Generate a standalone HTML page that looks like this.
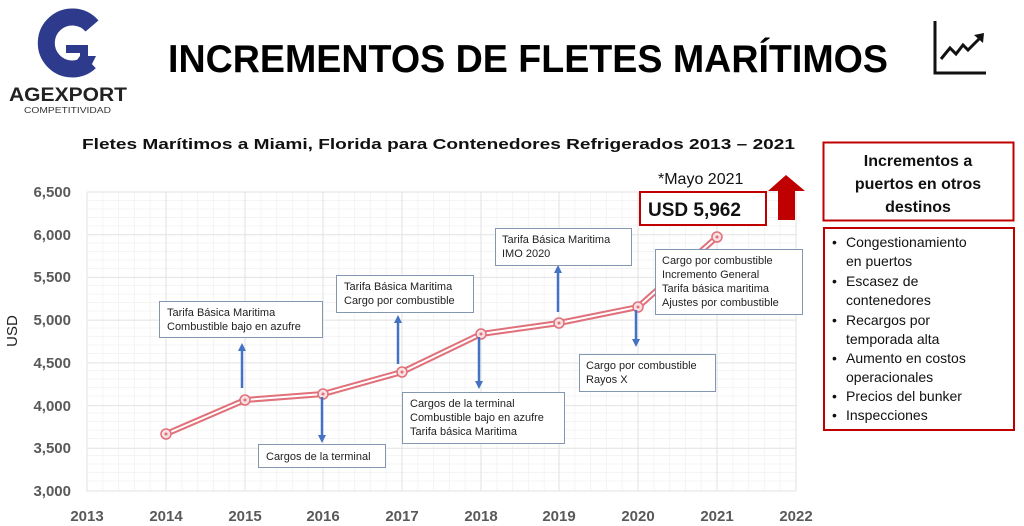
<!DOCTYPE html>
<html><head><meta charset="utf-8"><style>
html,body{margin:0;padding:0;background:#fff;}
svg{display:block;font-family:"Liberation Sans",sans-serif;}
</style></head><body>
<svg width="1024" height="526" viewBox="0 0 1024 526" xmlns="http://www.w3.org/2000/svg">
<!-- logo -->
<path d="M92 26 A26 26 0 1 0 90 62" fill="none" stroke="#2e3a8c" stroke-width="17"/>
<path d="M66 45 H88 V56 H96 L90 68 L80 76 L74 64 L80 56 V53 H66 Z" fill="#2e3a8c"/>
<text x="9" y="101" font-size="19" font-weight="bold" fill="#222" textLength="118" lengthAdjust="spacingAndGlyphs">AGEXPORT</text>
<text x="24" y="113" font-size="8" fill="#333" textLength="87" lengthAdjust="spacingAndGlyphs">COMPETITIVIDAD</text>
<!-- title -->
<text x="168" y="72" font-size="39" font-weight="bold" fill="#000" textLength="720" lengthAdjust="spacingAndGlyphs">INCREMENTOS DE FLETES MARÍTIMOS</text>
<!-- icon -->
<path d="M935 21 V73 H986" fill="none" stroke="#111" stroke-width="3"/>
<path d="M941 59 L950 48 L956 54 L963 45 L968 50 L981 37" fill="none" stroke="#111" stroke-width="3"/>
<path d="M974 35 L984 33 L983 43 Z" fill="#111"/>
<!-- chart title -->
<text x="82" y="149" font-size="15" font-weight="bold" fill="#111" textLength="713" lengthAdjust="spacingAndGlyphs">Fletes Marítimos a Miami, Florida para Contenedores Refrigerados 2013 – 2021</text>
<!-- grid -->
<g stroke="#f4f4f4" stroke-width="1">
<path d="M87 200.5H796M87 209H796M87 217.5H796M87 226H796M87 243H796M87 251.5H796M87 260H796M87 268.5H796M87 285.5H796M87 294H796M87 302.5H796M87 311H796M87 328H796M87 336.5H796M87 345H796M87 353.5H796M87 370.5H796M87 379H796M87 387.5H796M87 396H796M87 413H796M87 421.5H796M87 430H796M87 438.5H796M87 455.5H796M87 464H796M87 472.5H796M87 481H796"/>
<path d="M102.8 192V491M118.6 192V491M134.4 192V491M150.2 192V491M181.8 192V491M197.6 192V491M213.4 192V491M229.2 192V491M260.8 192V491M276.6 192V491M292.4 192V491M308.2 192V491M338.8 192V491M354.6 192V491M370.4 192V491M386.2 192V491M417.8 192V491M433.6 192V491M449.4 192V491M465.2 192V491M496.8 192V491M512.6 192V491M528.4 192V491M544.2 192V491M574.8 192V491M590.6 192V491M606.4 192V491M622.2 192V491M653.8 192V491M669.6 192V491M685.4 192V491M701.2 192V491M732.8 192V491M748.6 192V491M764.4 192V491M780.2 192V491"/>
</g>
<g stroke="#e2e2e2" stroke-width="1">
<path d="M87 192H796M87 234.7H796M87 277.4H796M87 320.1H796M87 362.9H796M87 405.6H796M87 448.3H796M87 491H796"/>
<path d="M87 192V491M166 192V491M245 192V491M323 192V491M402 192V491M481 192V491M559 192V491M638 192V491M717 192V491M796 192V491"/>
</g>
<!-- axis labels -->
<g font-size="15" font-weight="bold" fill="#595959" text-anchor="end">
<text x="71" y="197">6,500</text><text x="71" y="240">6,000</text><text x="71" y="282">5,500</text><text x="71" y="325">5,000</text><text x="71" y="368">4,500</text><text x="71" y="411">4,000</text><text x="71" y="453">3,500</text><text x="71" y="496">3,000</text>
</g>
<g font-size="15" font-weight="bold" fill="#595959" text-anchor="middle">
<text x="87" y="521">2013</text><text x="166" y="521">2014</text><text x="245" y="521">2015</text><text x="323" y="521">2016</text><text x="402" y="521">2017</text><text x="481" y="521">2018</text><text x="559" y="521">2019</text><text x="638" y="521">2020</text><text x="717" y="521">2021</text><text x="796" y="521">2022</text>
</g>
<text transform="translate(17 331) rotate(-90)" font-size="15" fill="#222" text-anchor="middle">USD</text>
<!-- series -->
<polyline points="166,434 245,400 323,394 402,372 481,334 559,323 638,307 717,237" fill="none" stroke="#e0707a" stroke-width="6"/>
<polyline points="166,434 245,400 323,394 402,372 481,334 559,323 638,307 717,237" fill="none" stroke="#fff" stroke-width="2"/>
<g fill="#fbe0e2" stroke="#e0707a" stroke-width="1.5">
<circle cx="166" cy="434" r="5"/><circle cx="245" cy="400" r="5"/><circle cx="323" cy="394" r="5"/><circle cx="402" cy="372" r="5"/><circle cx="481" cy="334" r="5"/><circle cx="559" cy="323" r="5"/><circle cx="638" cy="307" r="5"/><circle cx="717" cy="237" r="5"/>
</g>
<g fill="#e0707a"><circle cx="166" cy="434" r="1.5"/><circle cx="245" cy="400" r="1.5"/><circle cx="323" cy="394" r="1.5"/><circle cx="402" cy="372" r="1.5"/><circle cx="481" cy="334" r="1.5"/><circle cx="559" cy="323" r="1.5"/><circle cx="638" cy="307" r="1.5"/><circle cx="717" cy="237" r="1.5"/></g>
<!-- arrows -->
<g stroke="#4472c4" stroke-width="2.5" fill="#4472c4">
<line x1="242" y1="388" x2="242" y2="350"/><path d="M238 351 L242 343 L246 351Z" stroke="none"/>
<line x1="322" y1="397" x2="322" y2="436"/><path d="M318 435 L322 443 L326 435Z" stroke="none"/>
<line x1="398" y1="364" x2="398" y2="322"/><path d="M394 323 L398 315 L402 323Z" stroke="none"/>
<line x1="479" y1="337" x2="479" y2="382"/><path d="M475 381 L479 389 L483 381Z" stroke="none"/>
<line x1="558" y1="312" x2="558" y2="272"/><path d="M554 273 L558 265 L562 273Z" stroke="none"/>
<line x1="636" y1="310" x2="636" y2="340"/><path d="M632 339 L636 347 L640 339Z" stroke="none"/>
</g>
<!-- annotation boxes -->
<g fill="#fff" stroke="#8497b0" stroke-width="1">
<rect x="159.5" y="301.5" width="163" height="36"/>
<rect x="258.5" y="444.5" width="127" height="23"/>
<rect x="336.5" y="275.5" width="137" height="37"/>
<rect x="402.5" y="392.5" width="162" height="51"/>
<rect x="495.5" y="228.5" width="136" height="37"/>
<rect x="579.5" y="354.5" width="136" height="37"/>
<rect x="655.5" y="249.5" width="147" height="65"/>
</g>
<g font-size="11" fill="#222">
<text x="167" y="316">Tarifa Básica Maritima</text><text x="167" y="330">Combustible bajo en azufre</text>
<text x="266" y="460">Cargos de la terminal</text>
<text x="344" y="290">Tarifa Básica Maritima</text><text x="344" y="304">Cargo por combustible</text>
<text x="410" y="407">Cargos de la terminal</text><text x="410" y="421">Combustible bajo en azufre</text><text x="410" y="435">Tarifa básica Maritima</text>
<text x="502" y="243">Tarifa Básica Maritima</text><text x="502" y="257">IMO 2020</text>
<text x="586" y="369">Cargo por combustible</text><text x="586" y="383">Rayos  X</text>
<text x="662" y="264">Cargo por combustible</text><text x="662" y="278">Incremento General</text><text x="662" y="292">Tarifa básica maritima</text><text x="662" y="306">Ajustes por combustible</text>
</g>
<!-- May 2021 -->
<text x="658" y="184" font-size="16" fill="#111">*Mayo 2021</text>
<rect x="640" y="192" width="126" height="33" fill="#fff" stroke="#c00000" stroke-width="2"/>
<text x="648" y="216" font-size="19" font-weight="bold" fill="#111">USD 5,962</text>
<path d="M778 220 V191 H768 L786 175 L805 191 H795 V220 Z" fill="#c00000"/>
<!-- right panel -->
<rect x="823.5" y="142.5" width="190" height="78" fill="#fff" stroke="#c00000" stroke-width="2"/>
<g font-size="16" font-weight="bold" fill="#111" text-anchor="middle">
<text x="918" y="166">Incrementos a</text><text x="918" y="189">puertos en otros</text><text x="918" y="212">destinos</text>
</g>
<rect x="824" y="228" width="190" height="202" fill="#fff" stroke="#c00000" stroke-width="2"/>
<g font-size="14" fill="#111">
<text x="832" y="247">•</text><text x="846" y="247">Congestionamiento</text><text x="846" y="266">en puertos</text>
<text x="832" y="286">•</text><text x="846" y="286">Escasez de</text><text x="846" y="305">contenedores</text>
<text x="832" y="325">•</text><text x="846" y="325">Recargos por</text><text x="846" y="344">temporada alta</text>
<text x="832" y="363">•</text><text x="846" y="363">Aumento en costos</text><text x="846" y="382">operacionales</text>
<text x="832" y="401">•</text><text x="846" y="401">Precios del bunker</text>
<text x="832" y="420">•</text><text x="846" y="420">Inspecciones</text>
</g>
</svg>
</body></html>
